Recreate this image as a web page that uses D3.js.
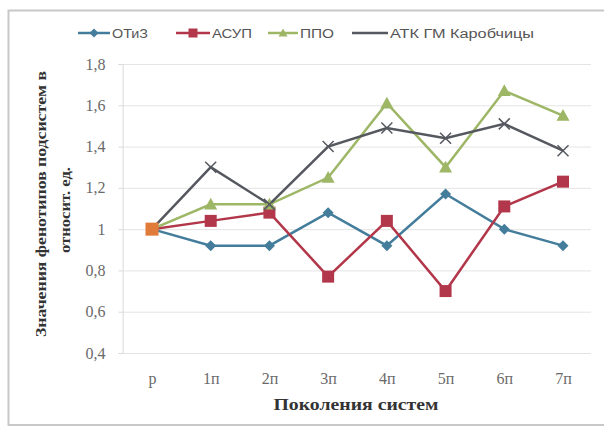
<!DOCTYPE html>
<html><head><meta charset="utf-8">
<script src="https://cdn.jsdelivr.net/npm/d3@7"></script>
<style>body{margin:0;background:#fff;}svg{display:block;}</style>
</head><body>
<svg id="c" width="604" height="427"></svg>
<script>
const categories = ["р","1п","2п","3п","4п","5п","6п","7п"];
const seriesNames = ["ОТиЗ","АСУП","ППО","АТК ГМ Каробчицы"];
const otiz = [1.00,0.92,0.92,1.08,0.92,1.17,1.00,0.92];
const asup = [1.00,1.04,1.08,0.77,1.04,0.70,1.11,1.23];
const ppo  = [1.00,1.12,1.12,1.25,1.61,1.30,1.67,1.55];
const atk  = [1.00,1.30,1.12,1.40,1.49,1.44,1.51,1.38];
const yTicks = [0.4,0.6,0.8,1.0,1.2,1.4,1.6,1.8];
const yTickLabels = ["0,4","0,6","0,8","1","1,2","1,4","1,6","1,8"];

const series = [
  {name: seriesNames[0], values: otiz, color: "#437d9b", marker: "diamond"},
  {name: seriesNames[1], values: asup, color: "#b3374a", marker: "square"},
  {name: seriesNames[2], values: ppo,  color: "#9db766", marker: "triangle"},
  {name: seriesNames[3], values: atk,  color: "#56585f", marker: "x"}
];

const svg = d3.select("#c");
// outer frame
svg.append("rect").attr("x",8.5).attr("y",10.5).attr("width",620).attr("height",414.5)
  .attr("fill","none").attr("stroke","#c8c8c8").attr("stroke-width",2);

const pLeft = 122.6, pRight = 591, pTop = 64, pBottom = 353;
const x = d3.scalePoint().domain(categories).range([152, 563]);
const y = d3.scaleLinear().domain([0.4,1.8]).range([pBottom, pTop]);

// gridlines
svg.append("g").selectAll("line").data(yTicks).join("line")
  .attr("x1",pLeft).attr("x2",pRight)
  .attr("y1",d=>y(d)+0.5).attr("y2",d=>y(d)+0.5)
  .attr("stroke","#e4e4e4").attr("stroke-width",1);

// y axis
const yAxis = d3.axisLeft(y).tickValues(yTicks).tickSize(4)
  .tickFormat((d,i)=>yTickLabels[i]);
const gy = svg.append("g").attr("transform",`translate(${pLeft},0)`).call(yAxis);
gy.select(".domain").attr("stroke","#d9d9d9");
gy.selectAll(".tick line").attr("stroke","#d9d9d9");
gy.selectAll("text").attr("font-family","Liberation Serif, Times New Roman, serif")
  .attr("font-size",16).attr("fill","#6a6a6a").attr("x",-17);

// x axis
const xAxis = d3.axisBottom(x).tickSize(0);
const gx = svg.append("g").attr("transform",`translate(0,${pBottom})`).call(xAxis);
gx.select(".domain").remove();
gx.selectAll("text").attr("font-family","Liberation Serif, Times New Roman, serif")
  .attr("font-size",16).attr("fill","#6a6a6a").attr("dy","1.75em");

// axis titles
svg.append("text").attr("x",356).attr("y",410).attr("text-anchor","middle")
  .attr("font-family","Liberation Serif, Times New Roman, serif").attr("font-weight","bold")
  .attr("font-size",17).attr("fill","#333").attr("textLength",165).attr("lengthAdjust","spacingAndGlyphs")
  .text("Поколения систем");
const yt = svg.append("g").attr("transform","translate(46,204) rotate(-90)");
yt.append("text").attr("x",0).attr("y",0).attr("text-anchor","middle")
  .attr("font-family","Liberation Serif, Times New Roman, serif")
  .attr("font-weight","bold").attr("font-size",15).attr("fill","#333")
  .attr("textLength",266).attr("lengthAdjust","spacingAndGlyphs")
  .text("Значения фенотипов подсистем в");
yt.append("text").attr("x",-6).attr("y",24).attr("text-anchor","middle")
  .attr("font-family","Liberation Serif, Times New Roman, serif")
  .attr("font-weight","bold").attr("font-size",15).attr("fill","#333")
  .attr("textLength",86).attr("lengthAdjust","spacingAndGlyphs")
  .text("относит. ед.");

function drawMarker(g, type, cx, cy, color, s) {
  if (type === "diamond") {
    g.append("path").attr("d",`M${cx},${cy-s}L${cx+s},${cy}L${cx},${cy+s}L${cx-s},${cy}Z`).attr("fill",color);
  } else if (type === "square") {
    g.append("rect").attr("x",cx-s).attr("y",cy-s).attr("width",2*s).attr("height",2*s).attr("fill",color);
  } else if (type === "triangle") {
    g.append("path").attr("d",`M${cx},${cy-s}L${cx+s},${cy+s*0.8}L${cx-s},${cy+s*0.8}Z`).attr("fill",color);
  } else if (type === "x") {
    g.append("path").attr("d",`M${cx-s},${cy-s}L${cx+s},${cy+s}M${cx-s},${cy+s}L${cx+s},${cy-s}`)
      .attr("stroke",color).attr("stroke-width",1.5);
  }
}

const line = d3.line().x((d,i)=>x(categories[i])).y(d=>y(d));
const plot = svg.append("g");
series.forEach(s => {
  plot.append("path").attr("d",line(s.values)).attr("fill","none")
    .attr("stroke",s.color).attr("stroke-width",2.5);
});
const sizes = {diamond:5.5, square:6, triangle:6.5, x:5.5};
series.forEach(s => {
  const g = plot.append("g");
  s.values.forEach((v,i)=>{
    if (i===0) return;
    drawMarker(g, s.marker, x(categories[i]), y(v), s.color, sizes[s.marker]);
  });
});
// coincident starting point marker (shown orange in the reference)
drawMarker(plot, "square", x(categories[0]), y(asup[0]), "#e07b39", 6.5);

// legend
const legend = svg.append("g");
const legX = [78, 176, 268, 352];
const legW = [32, 34, 30, 36];
const legTL = [36, 40, 34, 144];
series.forEach((s,i)=>{
  const lx = legX[i], ly = 33;
  legend.append("line").attr("x1",lx).attr("x2",lx+legW[i]).attr("y1",ly).attr("y2",ly)
    .attr("stroke",s.color).attr("stroke-width",2.5);
  if (s.marker !== "x") drawMarker(legend, s.marker, lx+legW[i]/2, ly, s.color, 4.5);
  legend.append("text").attr("x",lx+legW[i]+2).attr("y",ly+4.5)
    .attr("font-family","Liberation Sans, Arial, sans-serif").attr("font-size",12.5)
    .attr("textLength",legTL[i]).attr("lengthAdjust","spacingAndGlyphs")
    .attr("fill","#555").text(s.name);
});
</script>
</body></html>
